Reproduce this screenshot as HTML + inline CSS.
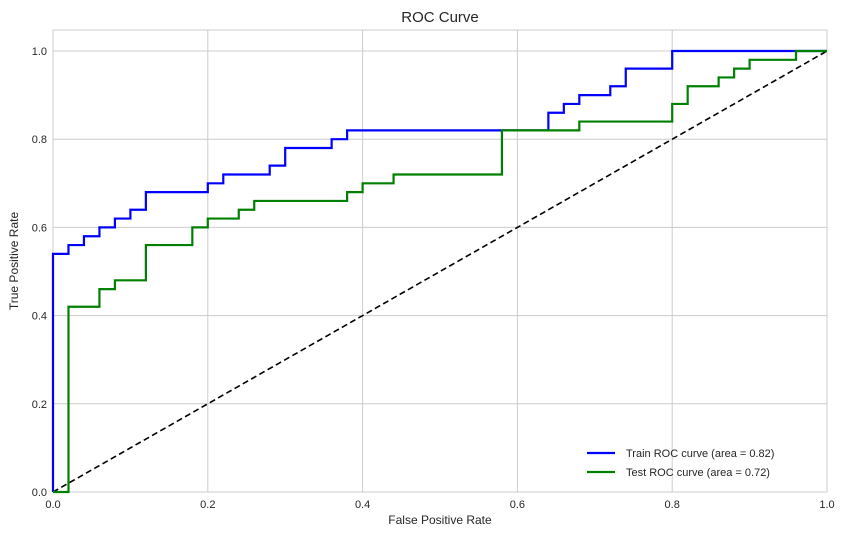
<!DOCTYPE html>
<html><head><meta charset="utf-8"><style>
body{margin:0;background:#fff;font-family:"Liberation Sans","DejaVu Sans",sans-serif}
svg text{font-family:"Liberation Sans","DejaVu Sans",sans-serif;fill:#262626}
</style></head><body>
<svg id="c" width="846" height="536"></svg>
<script>
const trainFpr=[0,0,0.02,0.02,0.04,0.04,0.06,0.06,0.08,0.08,0.10,0.10,0.12,0.12,0.20,0.20,0.22,0.22,0.28,0.28,0.30,0.30,0.36,0.36,0.38,0.38,0.64,0.64,0.66,0.66,0.68,0.68,0.72,0.72,0.74,0.74,0.80,0.80,1.0];
const trainTpr=[0,0.54,0.54,0.56,0.56,0.58,0.58,0.60,0.60,0.62,0.62,0.64,0.64,0.68,0.68,0.70,0.70,0.72,0.72,0.74,0.74,0.78,0.78,0.80,0.80,0.82,0.82,0.86,0.86,0.88,0.88,0.90,0.90,0.92,0.92,0.96,0.96,1.0,1.0];
const testFpr=[0,0.02,0.02,0.06,0.06,0.08,0.08,0.12,0.12,0.18,0.18,0.20,0.20,0.24,0.24,0.26,0.26,0.38,0.38,0.40,0.40,0.44,0.44,0.58,0.58,0.68,0.68,0.80,0.80,0.82,0.82,0.86,0.86,0.88,0.88,0.90,0.90,0.96,0.96,1.0];
const testTpr=[0,0,0.42,0.42,0.46,0.46,0.48,0.48,0.56,0.56,0.60,0.60,0.62,0.62,0.64,0.64,0.66,0.66,0.68,0.68,0.70,0.70,0.72,0.72,0.82,0.82,0.84,0.84,0.88,0.88,0.92,0.92,0.94,0.94,0.96,0.96,0.98,0.98,1.0,1.0];
const xTicks=[0,0.2,0.4,0.6,0.8,1.0];
const yTicks=[0,0.2,0.4,0.6,0.8,1.0];
const seriesLabels=["Train ROC curve (area = 0.82)","Test ROC curve (area = 0.72)"];
const NS="http://www.w3.org/2000/svg";
const svg=document.getElementById('c');
const L=53,R=827,T=30,B=492;
const X=v=>L+v*(R-L);
const Y=v=>B-v*441;
function el(t,a,p){const e=document.createElementNS(NS,t);for(const k in a)e.setAttribute(k,a[k]);(p||svg).appendChild(e);return e;}
const t=el('text',{x:440,y:22,'text-anchor':'middle','font-size':15});t.textContent='ROC Curve';


const fr=el('rect',{x:L,y:T,width:R-L,height:B-T,fill:'#fff',stroke:'#ccc'});


xTicks.forEach(v=>{
 const g=el('line',{x1:X(v),x2:X(v),y1:T,y2:B,stroke:'#ccc'});
 
 
 const l=el('text',{x:X(v),y:B+16,'text-anchor':'middle','font-size':11});l.textContent=v.toFixed(1);
 
 
});
yTicks.forEach(v=>{
 const g=el('line',{x1:L,x2:R,y1:Y(v),y2:Y(v),stroke:'#ccc'});
 
 
 const l=el('text',{x:L-6,y:Y(v)+4,'text-anchor':'end','font-size':11});l.textContent=v.toFixed(1);
 
 
});
const xt=el('text',{x:440,y:524,'text-anchor':'middle','font-size':12});xt.textContent='False Positive Rate';


const yt=el('text',{x:18,y:261,'text-anchor':'middle','font-size':12,transform:'rotate(-90 18 261)'});yt.textContent='True Positive Rate';


const d=el('line',{x1:X(0),y1:Y(0),x2:X(1),y2:Y(1),stroke:'#000','stroke-width':1.6,'stroke-dasharray':'6,3.5'});


function pl(xs,ys,c,n){const p=el('polyline',{points:xs.map((x,i)=>X(x)+','+Y(ys[i])).join(' '),fill:'none',stroke:c,'stroke-width':2.2});
 
 }
pl(trainFpr,trainTpr,'#0000ff','train-roc-line');
pl(testFpr,testTpr,'#008000','test-roc-line');
const lg=el('g',{});


['#0000ff','#008000'].forEach((c,i)=>{
 const y=453+i*19;
 el('line',{x1:587,x2:615,y1:y,y2:y,stroke:c,'stroke-width':2.2},lg);
 const tx=el('text',{x:626,y:y+4,'font-size':11},lg);tx.textContent=seriesLabels[i];
 
 
});
</script>
</body></html>
